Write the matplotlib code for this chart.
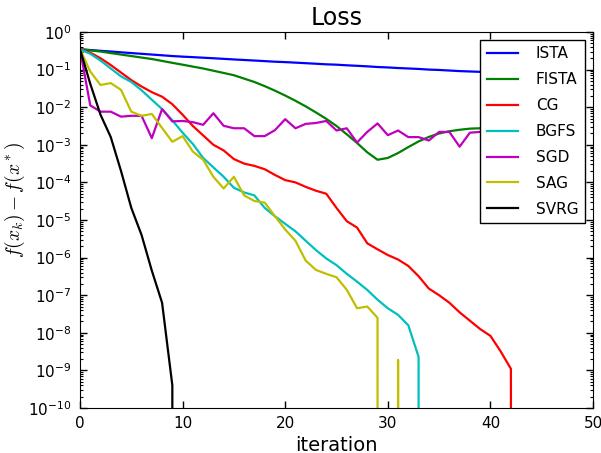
import matplotlib
matplotlib.use("Agg")
import matplotlib.pyplot as plt
from matplotlib.ticker import LogLocator

plt.rcParams["mathtext.fontset"] = "cm"

# values (0 means the method hit the optimum)
ista = [0.347, 0.331, 0.316, 0.302, 0.288, 0.275, 0.263, 0.251, 0.240, 0.229,
        0.221, 0.214, 0.207, 0.200, 0.193, 0.186, 0.180, 0.174, 0.168, 0.162,
        0.158, 0.153, 0.148, 0.143, 0.138, 0.135, 0.130, 0.126, 0.122, 0.117,
        0.114, 0.110, 0.107, 0.104, 0.100, 0.0977, 0.0944, 0.0912, 0.0891, 0.0871,
        0.0841]
fista = [0.347, 0.324, 0.302, 0.275, 0.251, 0.229, 0.209, 0.191, 0.170, 0.151,
         0.135, 0.120, 0.107, 0.0933, 0.0813, 0.0708, 0.0575, 0.0468, 0.0363, 0.0275,
         0.0204, 0.0148, 0.0105, 0.00724, 0.0049, 0.00316, 0.0019, 0.00112, 0.00063, 0.0004,
         0.000447, 0.000603, 0.00087, 0.00123, 0.00162, 0.002, 0.00229, 0.00251, 0.00269, 0.00275,
         0.00282]
cg = [0.347, 0.282, 0.2, 0.132, 0.0832, 0.0525, 0.0355, 0.0251, 0.019, 0.012,
      0.0063, 0.00316, 0.00178, 0.001, 0.000708, 0.000417, 0.000316, 0.000275, 0.000224, 0.000158,
      0.000115, 1e-4, 7.6e-5, 6.0e-5, 5.0e-5, 2.1e-5, 9.3e-6, 6.3e-6, 2.4e-6, 1.66e-6,
      1.17e-6, 8.9e-7, 6.0e-7, 3.2e-7, 1.5e-7, 1e-7, 6.3e-8, 3.5e-8, 2.1e-8, 1.26e-8,
      8.3e-9, 3.2e-9, 1.1e-9, 0]
bgfs = [0.347, 0.263, 0.174, 0.107, 0.066, 0.0468, 0.0282, 0.0158, 0.0089, 0.00447,
        0.00209, 0.00105, 0.000447, 0.000251, 0.000141, 7.2e-5, 5.4e-5, 4.5e-5, 2.1e-5, 1.26e-5,
        7.9e-6, 5.0e-6, 2.8e-6, 1.58e-6, 9.5e-7, 6.3e-7, 3.7e-7, 2.3e-7, 1.38e-7, 7.6e-8,
        4.5e-8, 3.0e-8, 1.58e-8, 2.3e-9, 0]
sgd = [0.347, 0.0112, 0.0076, 0.0076, 0.0056, 0.0059, 0.0059, 0.0015, 0.0089, 0.0042,
       0.0043, 0.004, 0.0034, 0.0069, 0.0032, 0.00275, 0.00275, 0.0017, 0.0017, 0.00245,
       0.0048, 0.00275, 0.0036, 0.0038, 0.0043, 0.0024, 0.00275, 0.00115, 0.0022, 0.0037,
       0.0018, 0.0024, 0.0016, 0.0016, 0.0013, 0.0022, 0.0022, 0.00089, 0.0021, 0.0022,
       0.0022]
sag = [0.347, 0.089, 0.039, 0.0437, 0.0288, 0.0076, 0.0059, 0.0066, 0.0028, 0.0012,
       0.0017, 0.00066, 0.0004, 0.000141, 6.9e-5, 0.000141, 4.5e-5, 3.2e-5, 2.9e-5, 1.26e-5,
       5.6e-6, 2.8e-6, 8.3e-7, 4.7e-7, 3.7e-7, 3.0e-7, 1.4e-7, 4.5e-8, 5.0e-8, 2.5e-8,
       0, 1.9e-9, 0]
svrg = [0.347, 0.042, 0.0063, 0.0016, 0.0002, 2.1e-5, 4.0e-6, 4.5e-7, 6.3e-8, 4e-10, 0]

methods = ["ISTA", "FISTA", "CG", "BGFS", "SGD", "SAG", "SVRG"]
series = [ista, fista, cg, bgfs, sgd, sag, svrg]
colors = ["#0000ff", "#008000", "#ff0000", "#00bfbf", "#bf00bf", "#bfbf00", "#000000"]

fig = plt.figure(figsize=(6.01, 4.53), dpi=100)
ax = fig.add_axes([0.1331, 0.0993, 0.8536, 0.8301])

for name, vals, c in zip(methods, series, colors):
    ax.plot(range(len(vals)), vals, color=c, lw=1.6, label=name)

ax.set_yscale("log")
ax.set_xlim(0, 50)
ax.set_ylim(1e-10, 1)
ax.yaxis.set_major_locator(LogLocator(base=10, numticks=12))
ax.yaxis.set_minor_locator(LogLocator(base=10, subs=range(2, 10), numticks=12))

ax.tick_params(which="both", direction="in", top=True, right=True, labelsize=11, pad=6)
ax.tick_params(which="major", length=5, width=1)
ax.tick_params(which="minor", length=2.5, width=0.8)

ax.set_title("Loss", fontsize=17, pad=5)
ax.set_xlabel("iteration", fontsize=14, labelpad=3)
ax.set_ylabel(r"$f(x_k) - f(x^*)$", fontsize=14)
ax.yaxis.set_label_coords(-0.104, 0.553)

leg = ax.legend(loc="upper right", fontsize=11, fancybox=False, framealpha=1,
                handlelength=2.0, handletextpad=1.2, labelspacing=0.71, borderpad=0.45)
leg.get_frame().set_edgecolor("black")
leg.get_frame().set_linewidth(1)

fig.savefig("out.png", dpi=100)
